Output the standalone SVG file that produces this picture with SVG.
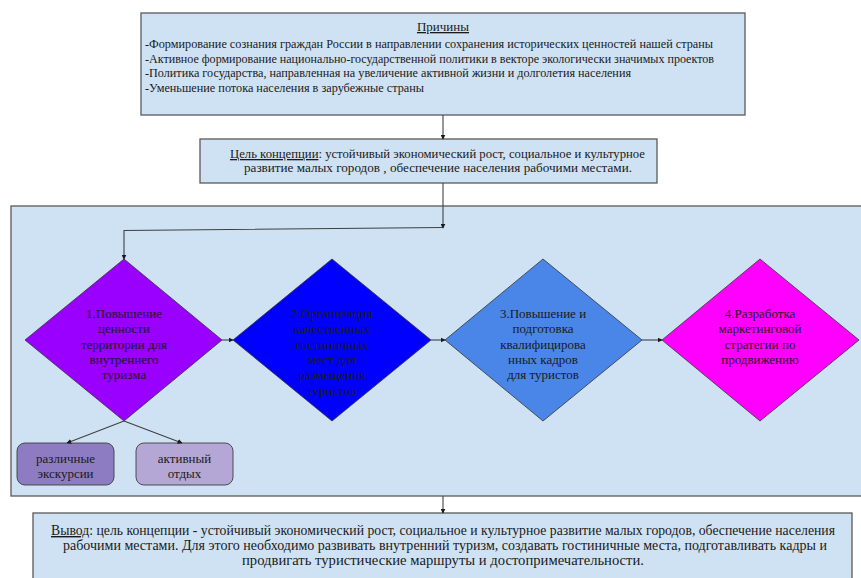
<svg xmlns="http://www.w3.org/2000/svg" width="861" height="578" viewBox="0 0 861 578">
<defs>
<style>
.box{fill:#cfe2f3;stroke:#595959;stroke-width:1.3}
.t{font-family:"Liberation Serif","Times New Roman","DejaVu Serif",serif;fill:#1a1a1a}
.c{text-anchor:middle}
.con{fill:none;stroke:#404040;stroke-width:1.1}
.dia{stroke:#333;stroke-width:0.8}
</style>
<marker id="ah" viewBox="0 0 8 8" refX="7" refY="4" markerWidth="5" markerHeight="5" orient="auto" markerUnits="userSpaceOnUse"><path d="M0,0 L8,4 L0,8 z" fill="#1a1a1a"/></marker>
</defs>
<g id="panel"><rect class="box" x="11" y="206" width="860" height="290"/></g>
<g id="causes">
<rect class="box" x="141" y="13" width="604" height="102"/>
<text class="t c" x="443" y="31" font-size="13" text-decoration="underline">Причины</text>
<text class="t" x="145" y="48" font-size="12.3" textLength="568" lengthAdjust="spacingAndGlyphs">-Формирование сознания граждан России в направлении сохранения исторических ценностей нашей страны</text>
<text class="t" x="145" y="62.5" font-size="12.3" textLength="569" lengthAdjust="spacingAndGlyphs">-Активное формирование национально-государственной политики в векторе экологически значимых проектов</text>
<text class="t" x="145" y="77" font-size="12.3" textLength="486" lengthAdjust="spacingAndGlyphs">-Политика государства, направленная на увеличение активной жизни и долголетия населения</text>
<text class="t" x="145" y="91.5" font-size="12.3" textLength="279" lengthAdjust="spacingAndGlyphs">-Уменьшение потока населения в зарубежные страны</text>
</g>
<g id="goal">
<rect class="box" x="200" y="139" width="457" height="44"/>
<text class="t c" x="437.5" y="158" font-size="13" textLength="415" lengthAdjust="spacingAndGlyphs"><tspan text-decoration="underline">Цель концепции</tspan>: устойчивый экономический рост, социальное и культурное</text>
<text class="t c" x="438" y="172" font-size="13" textLength="388" lengthAdjust="spacingAndGlyphs">развитие малых городов , обеспечение населения рабочими местами.</text>
</g>
<g id="d1">
<polygon class="dia" points="124,259 222,340 124,421 25,340" fill="#9900ff"/>
<text class="t c" x="124" y="318" font-size="13"><tspan x="124">1.Повышение</tspan><tspan x="124" dy="15.3">ценности</tspan><tspan x="124" dy="15.3">территории для</tspan><tspan x="124" dy="15.3">внутреннего</tspan><tspan x="124" dy="15.3">туризма</tspan></text>
</g>
<g id="d2">
<polygon class="dia" points="332,259 431,340 332,421 233,340" fill="#0000ff"/>
<text class="t c" x="332" y="318" font-size="13"><tspan x="332">2.Организация</tspan><tspan x="332" dy="15.3">качественных</tspan><tspan x="332" dy="15.3">гостиничных</tspan><tspan x="332" dy="15.3">мест для</tspan><tspan x="332" dy="15.3">размещения</tspan><tspan x="332" dy="15.3">туристов</tspan></text>
</g>
<g id="d3">
<polygon class="dia" points="543,259 642,340 543,421 445,340" fill="#4a86e8"/>
<text class="t c" x="543" y="318" font-size="13"><tspan x="543">3.Повышение и</tspan><tspan x="543" dy="15.3">подготовка</tspan><tspan x="543" dy="15.3">квалифицирова</tspan><tspan x="543" dy="15.3">нных кадров</tspan><tspan x="543" dy="15.3">для туристов</tspan></text>
</g>
<g id="d4">
<polygon class="dia" points="760,259 859,340 760,421 662,340" fill="#ff00ff"/>
<text class="t c" x="760" y="318" font-size="13"><tspan x="760">4.Разработка</tspan><tspan x="760" dy="15.3">маркетинговой</tspan><tspan x="760" dy="15.3">стратегии по</tspan><tspan x="760" dy="15.3">продвижению</tspan></text>
</g>
<g id="b1">
<rect x="17" y="443" width="97" height="42" rx="8" fill="#8e7cc3" stroke="#404040" stroke-width="0.9"/>
<text class="t c" x="65.5" y="463" font-size="13"><tspan x="65.5">различные</tspan><tspan x="65.5" dy="15.3">экскурсии</tspan></text>
</g>
<g id="b2">
<rect x="136" y="443" width="97" height="42" rx="8" fill="#b4a7d6" stroke="#404040" stroke-width="0.9"/>
<text class="t c" x="184.5" y="463" font-size="13"><tspan x="184.5">активный</tspan><tspan x="184.5" dy="15.3">отдых</tspan></text>
</g>
<g id="conclusion">
<rect class="box" x="33" y="513" width="819" height="80"/>
<text class="t c" x="443" y="535" font-size="14" textLength="784" lengthAdjust="spacingAndGlyphs"><tspan text-decoration="underline">Вывод</tspan>: цель концепции - устойчивый экономический рост, социальное и культурное развитие малых городов, обеспечение населения</text>
<text class="t c" x="445" y="550" font-size="14" textLength="764" lengthAdjust="spacingAndGlyphs">рабочими местами. Для этого необходимо развивать внутренний туризм, создавать гостиничные места, подготавливать кадры и</text>
<text class="t c" x="443" y="565" font-size="14" textLength="402" lengthAdjust="spacingAndGlyphs">продвигать туристические маршруты и достопримечательности.</text>
</g>
<g id="connectors">
<path class="con" d="M443,115 V139" marker-end="url(#ah)"/>
<path class="con" d="M443,183 V228" marker-end="url(#ah)"/>
<path class="con" d="M443,227.5 L124,230.5 V259" marker-end="url(#ah)"/>
<path class="con" d="M222,340 H233" marker-end="url(#ah)"/>
<path class="con" d="M431,340 H445" marker-end="url(#ah)"/>
<path class="con" d="M642,340 H662" marker-end="url(#ah)"/>
<path class="con" d="M124,421 L67,443" marker-end="url(#ah)"/>
<path class="con" d="M124,421 L182,443" marker-end="url(#ah)"/>
<path class="con" d="M443,496 V513" marker-end="url(#ah)"/>
</g>
</svg>
